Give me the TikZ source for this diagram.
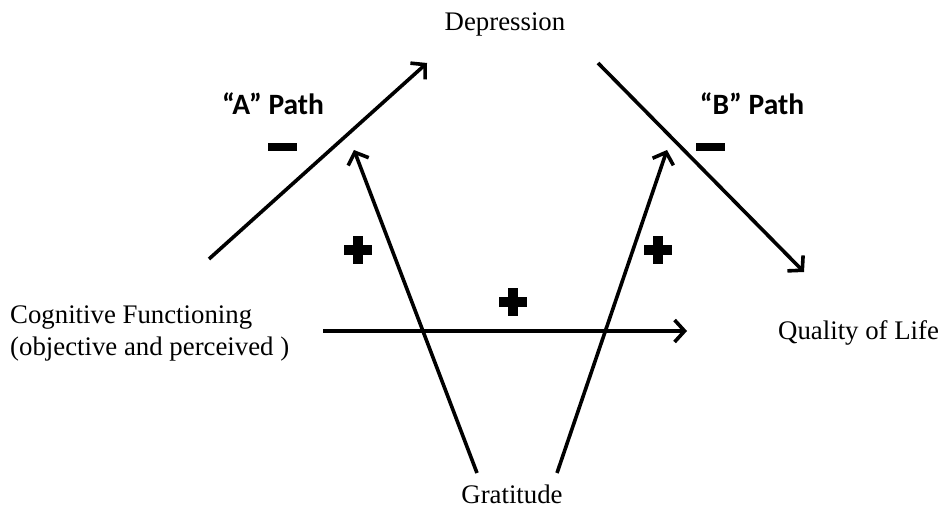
\documentclass[tikz,border=0pt]{standalone}
\usepackage{fontspec}
\setmainfont{Liberation Serif}
\newfontfamily\pathfont{Carlito}
\usetikzlibrary{arrows.meta}
\begin{document}
\begin{tikzpicture}[x=1pt,y=-1pt,
  lbl/.style={inner sep=0pt,font=\fontsize{26.8}{32}\selectfont},
  pathlbl/.style={inner sep=0pt,font=\pathfont\bfseries\fontsize{29.5}{34}\selectfont},
  conn/.style={line width=3.6pt,-{Straight Barb[length=10pt,width=22pt,line width=3.6pt]}},
  plussign/.style={fill=black},
  minussign/.style={fill=black}]
\useasboundingbox (0,0) rectangle (943,508);
% labels
\node[lbl] (dep) at (505,24) {Depression};
\node[lbl,anchor=base] (grat) at (512,503) {Gratitude};
\node[lbl,anchor=base west] (cf1) at (10,323) {Cognitive Functioning};
\node[lbl,anchor=base west] (cf2) at (10,355) {(objective and perceived )};
\node[lbl,anchor=base west] (qol) at (778,339) {Quality of Life};
\node[pathlbl] (pa) at (273,104) {“A” Path};
\node[pathlbl] (pb) at (752,104) {“B” Path};
% connector end points
\coordinate (a0) at (209,259);
\coordinate (a1) at (427,63);
\coordinate (b0) at (598,63);
\coordinate (b1) at (804,272);
\coordinate (g0) at (477,473);
\coordinate (g1) at (354,150);
\coordinate (h0) at (557,473);
\coordinate (h1) at (667,150);
\coordinate (c0) at (323,331);
\coordinate (c1) at (687,331);
\draw[conn] (a0) -- (a1);
\draw[conn] (b0) -- (b1);
\draw[conn] (g0) -- (g1);
\draw[conn] (h0) -- (h1);
\draw[conn] (c0) -- (c1);
% signs
\foreach \n/\px/\py in {p1/358/250, p2/658/250, p3/513/302}{
  \fill[plussign] (\px-14,\py-4.8) rectangle (\px+14,\py+4.8);
  \fill[plussign] (\px-4.8,\py-14) rectangle (\px+4.8,\py+14);
}
\fill[minussign] (268,143) rectangle (297,151.5);
\fill[minussign] (696,143) rectangle (725,151.5);
\end{tikzpicture}
\end{document}
